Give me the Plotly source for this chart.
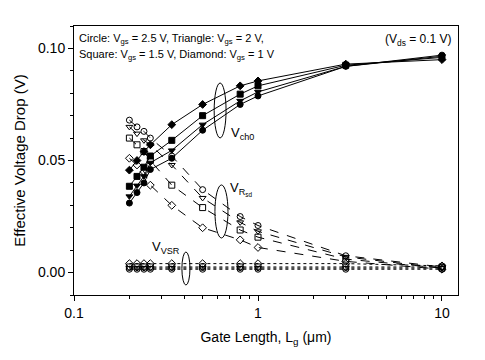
import plotly.graph_objects as go

# Gate lengths (um)
lg = [0.2, 0.22, 0.24, 0.26, 0.34, 0.5, 0.8, 1, 3, 10]

# Vch0 (filled symbols, solid lines)
vch0_circle   = [0.031, 0.0357, 0.040, 0.046, 0.051, 0.0635, 0.075, 0.0788, 0.092, 0.097]
vch0_triangle = [0.034, 0.0388, 0.043, 0.049, 0.0545, 0.066, 0.0766, 0.0806, 0.092, 0.0965]
vch0_square   = [0.0385, 0.0429, 0.047, 0.052, 0.059, 0.070, 0.0796, 0.0833, 0.0925, 0.096]
vch0_diamond  = [0.0457, 0.050, 0.054, 0.057, 0.066, 0.075, 0.0833, 0.0855, 0.093, 0.095]

# VRsd (open symbols, dashed lines)
vrsd_circle   = [0.068, 0.065, 0.063, 0.060, 0.052, 0.037, 0.025, 0.021, 0.0075, 0.0025]
vrsd_triangle = [0.065, 0.062, 0.059, 0.057, 0.048, 0.0333, 0.0224, 0.0184, 0.007, 0.002]
vrsd_square   = [0.060, 0.057, 0.054, 0.050, 0.039, 0.029, 0.019, 0.0158, 0.006, 0.002]
vrsd_diamond  = [0.051, 0.048, 0.045, 0.039, 0.030, 0.020, 0.0146, 0.0112, 0.005, 0.0015]

# VVSR (open symbols, dotted lines)
vvsr_circle   = [0.0015, 0.0015, 0.0015, 0.0015, 0.0015, 0.0015, 0.0015, 0.0015, 0.0015, 0.0015]
vvsr_triangle = [0.002, 0.002, 0.002, 0.002, 0.002, 0.002, 0.002, 0.002, 0.002, 0.002]
vvsr_square   = [0.0025, 0.0025, 0.0025, 0.0025, 0.0025, 0.0025, 0.0025, 0.0025, 0.0025, 0.0025]
vvsr_diamond  = [0.004, 0.004, 0.004, 0.004, 0.004, 0.004, 0.004, 0.004, 0.004, 0.003]

x_major = [0.1, 1, 10]
x_major_text = ["0.1", "1", "10"]
x_minor = [0.2, 0.3, 0.4, 0.5, 0.6, 0.7, 0.8, 0.9, 2, 3, 4, 5, 6, 7, 8, 9]
y_major = [0.0, 0.05, 0.10]
y_major_text = ["0.00", "0.05", "0.10"]

FONT = "Arial, Liberation Sans, sans-serif"

fig = go.Figure()

def add(y, sym, dash):
    fig.add_trace(go.Scatter(
        x=lg, y=y, mode="lines+markers",
        line=dict(color="black", width=1, dash=dash),
        marker=dict(symbol=sym, size=6, color="black",
                    line=dict(color="black", width=1)),
        showlegend=False))

for y, s in [(vch0_circle, "circle"), (vch0_triangle, "triangle-down"),
             (vch0_square, "square"), (vch0_diamond, "diamond")]:
    add(y, s, "solid")
for y, s in [(vrsd_circle, "circle-open"), (vrsd_triangle, "triangle-down-open"),
             (vrsd_square, "square-open"), (vrsd_diamond, "diamond-open")]:
    add(y, s, "dash")
for y, s in [(vvsr_circle, "circle-open"), (vvsr_triangle, "triangle-down-open"),
             (vvsr_square, "square-open"), (vvsr_diamond, "diamond-open")]:
    add(y, s, "dot")

fig.update_xaxes(
    type="log", range=[-1, 1.087], automargin=False,
    tickvals=x_major, ticktext=x_major_text,
    ticks="outside", ticklen=5, tickwidth=1, tickcolor="black",
    minor=dict(tickvals=x_minor, ticks="outside", ticklen=3, tickcolor="black"),
    showline=True, linecolor="black", linewidth=1, mirror=True,
    showgrid=False, zeroline=False,
    tickfont=dict(family=FONT, size=14, color="black"),
    title=dict(text="Gate Length, L<sub>g</sub> (μm)",
               font=dict(family=FONT, size=14, color="black"), standoff=12),
)
fig.update_yaxes(
    range=[-0.01, 0.11], automargin=False,
    tickvals=y_major, ticktext=y_major_text,
    ticks="outside", ticklen=5, tickwidth=1, tickcolor="black",
    minor=dict(dtick=0.01, ticks="outside", ticklen=3, tickcolor="black"),
    showline=True, linecolor="black", linewidth=1, mirror=True,
    showgrid=False, zeroline=False,
    tickfont=dict(family=FONT, size=14, color="black"),
    title=dict(text="Effective Voltage Drop (V)",
               font=dict(family=FONT, size=15, color="black"), standoff=8),
)

shapes = [
    dict(type="circle", xref="paper", yref="paper", x0=0.365, x1=0.396, y0=0.584, y1=0.788,
         line=dict(color="black", width=1)),
    dict(type="circle", xref="paper", yref="paper", x0=0.367, x1=0.401, y0=0.212, y1=0.409,
         line=dict(color="black", width=1)),
    dict(type="circle", xref="paper", yref="paper", x0=0.281, x1=0.302, y0=0.037, y1=0.160,
         line=dict(color="black", width=1)),
]

ann = [
    dict(text="Circle: V<sub>gs</sub> = 2.5 V, Triangle: V<sub>gs</sub> = 2 V,",
         xref="paper", yref="paper", x=0.008, y=0.985, xanchor="left", yanchor="top",
         align="left", showarrow=False, font=dict(family=FONT, size=11, color="black")),
    dict(text="Square: V<sub>gs</sub> = 1.5 V, Diamond: V<sub>gs</sub> = 1 V",
         xref="paper", yref="paper", x=0.008, y=0.926, xanchor="left", yanchor="top",
         align="left", showarrow=False, font=dict(family=FONT, size=11, color="black")),
    dict(text="(V<sub>ds</sub> = 0.1 V)", xref="paper", yref="paper", x=0.99, y=0.985,
         xanchor="right", yanchor="top", showarrow=False,
         font=dict(family=FONT, size=12, color="black")),
    dict(text="V<sub>ch0</sub>", xref="paper", yref="paper", x=0.404, y=0.60,
         xanchor="left", yanchor="middle", showarrow=False,
         font=dict(family=FONT, size=13, color="black")),
    dict(text="V<sub>R<sub>sd</sub></sub>", xref="paper", yref="paper", x=0.401, y=0.395,
         xanchor="left", yanchor="middle", showarrow=False,
         font=dict(family=FONT, size=13, color="black")),
    dict(text="V<sub>VSR</sub>", xref="paper", yref="paper", x=0.198, y=0.178,
         xanchor="left", yanchor="middle", showarrow=False,
         font=dict(family=FONT, size=13, color="black")),
]

# the page adds an 8 px body margin, so the figure is drawn 8 px smaller
fig.update_layout(
    width=477, height=352,
    margin=dict(l=66, r=27, t=18, b=65),
    paper_bgcolor="white", plot_bgcolor="white",
    shapes=shapes, annotations=ann,
    font=dict(family=FONT, color="black"),
)

fig.write_html("out.html")
